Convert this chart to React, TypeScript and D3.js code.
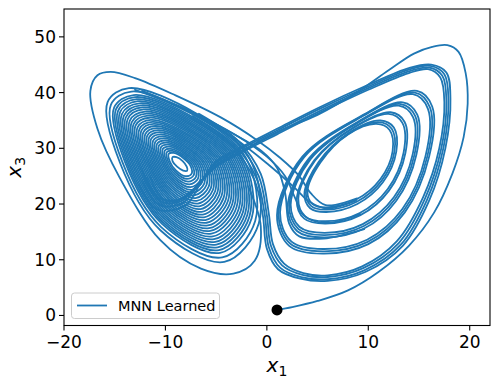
import React from "react";
import * as d3 from "d3";

// ---------- data (read / estimated from the reference picture) ----------
const xTicks = [-20, -10, 0, 10, 20];
const yTicks = [0, 10, 20, 30, 40, 50];
const seriesLabel = "MNN Learned";
const startPoint: [number, number] = [1, 1];

// first excursion: from the start point around the right wing into the left wing
const startPath: [number, number][] = [
  [1, 1], [2.5, 1.5], [5, 2.6], [8, 4.5], [11, 7.8], [14, 12.5], [16.5, 18.5], [18.3, 25.5],
  [19.4, 32], [19.8, 38], [19.6, 43.5], [18.9, 47.3], [17.8, 48.5], [16.3, 48.2], [14.5, 47],
  [12, 44], [9, 40.2], [5, 36], [1.3, 33.2], [-1, 31], [-3, 29], [-5.5, 26.3], [-7, 23],
  [-9, 20.5], [-11, 21.5], [-12.3, 26],
];

// outermost loop of the left wing, leaving to the right wing
const outerLeftPath: [number, number][] = [
  [-1.8, 23], [-0.6, 16], [-1.2, 9.8], [-3.3, 7.5], [-6.5, 8.4], [-10.5, 13.5], [-14.5, 24.7],
  [-16.7, 33.5], [-17.4, 40.3], [-16.7, 43.1], [-15.4, 43.7], [-13, 42.6], [-9, 39.5],
  [-4.5, 35.5], [-1, 31.5], [1.3, 28.3], [3.2, 25], [4.3, 22], [5.8, 19.8], [8.9, 21],
];

// left-wing spiral around the left equilibrium (innermost to outermost)
const leftLoops: [number, number][][] = [
  [[-9.3, 28.4], [-8.9, 28.4], [-8.3, 27.7], [-7.9, 26.7], [-7.85, 26.0], [-8.25, 26.0], [-8.85, 26.7], [-9.3, 27.7]],
  [[-9.67, 29.01], [-9.17, 29.17], [-8.22, 28.23], [-7.51, 26.82], [-7.43, 25.41], [-8.01, 24.99], [-8.94, 26.0], [-9.58, 27.68]],
  [[-9.87, 29.31], [-9.32, 29.54], [-8.18, 28.49], [-7.33, 26.87], [-7.22, 25.13], [-7.89, 24.5], [-8.99, 25.66], [-9.74, 27.68]],
  [[-10.06, 29.61], [-9.46, 29.91], [-8.14, 28.75], [-7.14, 26.92], [-7.0, 24.84], [-7.76, 24.01], [-9.04, 25.31], [-9.9, 27.67]],
  [[-10.25, 29.91], [-9.6, 30.29], [-8.11, 29.01], [-6.96, 26.98], [-6.79, 24.56], [-7.64, 23.52], [-9.09, 24.97], [-10.06, 27.67]],
  [[-10.44, 30.2], [-9.74, 30.66], [-8.07, 29.26], [-6.78, 27.03], [-6.58, 24.27], [-7.52, 23.02], [-9.14, 24.63], [-10.21, 27.66]],
  [[-10.64, 30.5], [-9.88, 31.03], [-8.03, 29.52], [-6.6, 27.09], [-6.37, 23.99], [-7.4, 22.53], [-9.19, 24.29], [-10.37, 27.65]],
  [[-10.83, 30.79], [-10.02, 31.4], [-7.99, 29.78], [-6.41, 27.14], [-6.16, 23.7], [-7.28, 22.04], [-9.24, 23.95], [-10.53, 27.64]],
  [[-11.02, 31.09], [-10.16, 31.77], [-7.95, 30.04], [-6.23, 27.2], [-5.95, 23.42], [-7.16, 21.55], [-9.29, 23.61], [-10.69, 27.64]],
  [[-11.21, 31.38], [-10.3, 32.14], [-7.91, 30.29], [-6.05, 27.25], [-5.73, 23.14], [-7.03, 21.06], [-9.34, 23.27], [-10.84, 27.63]],
  [[-11.41, 31.68], [-10.45, 32.51], [-7.87, 30.55], [-5.87, 27.3], [-5.52, 22.86], [-6.91, 20.57], [-9.39, 22.93], [-11.0, 27.63]],
  [[-11.6, 31.98], [-10.59, 32.88], [-7.83, 30.81], [-5.68, 27.35], [-5.31, 22.57], [-6.79, 20.08], [-9.44, 22.58], [-11.15, 27.62]],
  [[-11.79, 32.28], [-10.73, 33.26], [-7.79, 31.07], [-5.5, 27.41], [-5.1, 22.29], [-6.67, 19.59], [-9.49, 22.24], [-11.31, 27.62]],
  [[-11.98, 32.57], [-10.87, 33.63], [-7.75, 31.32], [-5.32, 27.46], [-4.89, 22.0], [-6.55, 19.09], [-9.54, 21.9], [-11.47, 27.61]],
  [[-12.18, 32.87], [-11.01, 34.0], [-7.72, 31.58], [-5.14, 27.52], [-4.68, 21.72], [-6.43, 18.6], [-9.59, 21.56], [-11.63, 27.61]],
  [[-12.37, 33.16], [-11.15, 34.37], [-7.68, 31.84], [-4.96, 27.57], [-4.47, 21.43], [-6.31, 18.11], [-9.64, 21.22], [-11.78, 27.6]],
  [[-12.56, 33.46], [-11.29, 34.74], [-7.64, 32.1], [-4.78, 27.63], [-4.26, 21.15], [-6.19, 17.62], [-9.69, 20.88], [-11.94, 27.6]],
  [[-12.75, 33.76], [-11.43, 35.11], [-7.6, 32.35], [-4.59, 27.68], [-4.04, 20.86], [-6.06, 17.13], [-9.74, 20.53], [-12.09, 27.59]],
  [[-12.95, 34.06], [-11.58, 35.48], [-7.56, 32.61], [-4.41, 27.73], [-3.83, 20.58], [-5.94, 16.64], [-9.79, 20.19], [-12.25, 27.59]],
  [[-13.14, 34.35], [-11.72, 35.85], [-7.52, 32.87], [-4.23, 27.78], [-3.62, 20.29], [-5.82, 16.15], [-9.84, 19.85], [-12.41, 27.58]],
  [[-13.33, 34.65], [-11.86, 36.22], [-7.48, 33.13], [-4.05, 27.84], [-3.41, 20.01], [-5.7, 15.66], [-9.89, 19.51], [-12.57, 27.57]],
  [[-13.52, 34.94], [-12.0, 36.59], [-7.44, 33.38], [-3.86, 27.89], [-3.2, 19.72], [-5.58, 15.17], [-9.94, 19.17], [-12.72, 27.56]],
  [[-13.72, 35.24], [-12.14, 36.97], [-7.4, 33.64], [-3.68, 27.95], [-2.99, 19.44], [-5.46, 14.68], [-9.99, 18.83], [-12.88, 27.56]],
  [[-13.91, 35.53], [-12.28, 37.34], [-7.36, 33.9], [-3.5, 28.0], [-2.77, 19.15], [-5.33, 14.18], [-10.04, 18.49], [-13.04, 27.55]],
  [[-14.1, 35.83], [-12.42, 37.71], [-7.33, 34.16], [-3.32, 28.06], [-2.56, 18.87], [-5.21, 13.69], [-10.09, 18.15], [-13.2, 27.55]],
  [[-14.29, 36.13], [-12.56, 38.08], [-7.29, 34.41], [-3.14, 28.11], [-2.35, 18.59], [-5.09, 13.2], [-10.13, 17.8], [-13.35, 27.54]],
  [[-14.48, 36.43], [-12.71, 38.45], [-7.25, 34.67], [-2.96, 28.16], [-2.14, 18.31], [-4.97, 12.71], [-10.18, 17.46], [-13.51, 27.54]],
  [[-14.67, 36.72], [-12.85, 38.82], [-7.21, 34.93], [-2.77, 28.21], [-1.93, 18.02], [-4.85, 12.22], [-10.23, 17.12], [-13.66, 27.53]],
  [[-14.87, 37.02], [-12.99, 39.19], [-7.17, 35.19], [-2.59, 28.27], [-1.72, 17.74], [-4.73, 11.73], [-10.28, 16.78], [-13.82, 27.53]],
  [[-15.06, 37.31], [-13.13, 39.56], [-7.13, 35.44], [-2.41, 28.32], [-1.5, 17.45], [-4.6, 11.24], [-10.33, 16.44], [-13.98, 27.52]],
  [[-15.38, 37.81], [-13.36, 40.18], [-7.06, 35.87], [-2.1, 28.41], [-1.15, 16.97], [-4.4, 10.42], [-10.42, 15.87], [-14.24, 27.51]],
  [[-15.7, 38.3], [-13.6, 40.8], [-7.0, 36.3], [-1.8, 28.5], [-0.8, 16.5], [-4.2, 9.6], [-10.5, 15.3], [-14.5, 27.5]],
];

// right-wing rings around the right equilibrium (innermost to outermost)
const rightRings: [number, number][][] = [
  [[5.9, 19.4], [8.8, 20.8], [11.2, 24.5], [12.4, 29.5], [12.1, 33.3], [10.8, 34.4], [8.0, 32.5], [5.3, 27.5], [4.0, 22.2], [4.5, 20.0]],
  [[5.88, 18.98], [8.86, 20.4], [11.32, 24.2], [12.58, 29.45], [12.31, 33.51], [11.0, 34.7], [8.08, 32.68], [5.21, 27.55], [3.85, 21.99], [4.38, 19.62]],
  [[5.86, 18.57], [8.92, 20.0], [11.44, 23.9], [12.76, 29.4], [12.52, 33.72], [11.2, 34.99], [8.15, 32.85], [5.12, 27.6], [3.7, 21.78], [4.27, 19.25]],
  [[5.78, 16.91], [9.16, 18.4], [11.92, 22.7], [13.48, 29.2], [13.36, 34.56], [12.0, 36.17], [8.45, 33.55], [4.76, 27.8], [3.1, 20.94], [3.81, 17.75]],
  [[5.76, 16.49], [9.22, 18.0], [12.04, 22.4], [13.66, 29.15], [13.57, 34.77], [12.2, 36.47], [8.53, 33.73], [4.67, 27.85], [2.95, 20.73], [3.69, 17.37]],
  [[5.68, 14.83], [9.46, 16.4], [12.52, 21.2], [14.38, 28.95], [14.41, 35.61], [13.0, 37.65], [8.83, 34.43], [4.31, 28.05], [2.35, 19.89], [3.23, 15.87]],
  [[5.66, 14.42], [9.52, 16.0], [12.64, 20.9], [14.56, 28.9], [14.62, 35.82], [13.2, 37.94], [8.9, 34.6], [4.22, 28.1], [2.2, 19.68], [3.12, 15.5]],
  [[5.64, 14.0], [9.58, 15.6], [12.76, 20.6], [14.74, 28.85], [14.83, 36.03], [13.4, 38.24], [8.98, 34.78], [4.13, 28.15], [2.05, 19.47], [3.0, 15.12]],
  [[5.54, 11.93], [9.88, 13.6], [13.36, 19.1], [15.64, 28.6], [15.88, 37.08], [14.4, 39.71], [9.35, 35.65], [3.68, 28.4], [1.3, 18.42], [2.43, 13.25]],
  [[5.52, 11.52], [9.94, 13.2], [13.48, 18.8], [15.82, 28.55], [16.09, 37.29], [14.6, 40.01], [9.43, 35.83], [3.59, 28.45], [1.15, 18.21], [2.32, 12.88]],
  [[5.5, 11.1], [10.0, 12.8], [13.6, 18.5], [16.0, 28.5], [16.3, 37.5], [14.8, 40.3], [9.5, 36.0], [3.5, 28.5], [1.0, 18.0], [2.2, 12.5]],
];

// wide excursions: left wing -> around the right wing -> back into the left wing
const bandPaths: [number, number][][] = [
  [[-7, 36], [-3, 31], [-0.8, 25], [0, 18], [0.4, 12.5], [1.5, 9], [3.5, 7.3], [6, 6.9], [9.5, 8.5], [13, 13], [15.6, 21], [17.2, 30], [17.7, 38.5], [17.3, 43], [16, 44.5], [14, 43.8], [10, 40.8], [5, 36.5], [1, 32.8], [-2, 30], [-5, 27], [-6.8, 23.5], [-8.5, 20.5], [-10.5, 20.5], [-11.8, 24.5]],
  [[-7.3, 35.8], [-3.2, 30.6], [-1, 24.5], [-0.2, 18], [0.2, 12.2], [1.3, 8.6], [3.4, 6.9], [6, 6.5], [9.6, 8.1], [13.2, 12.7], [15.8, 20.8], [17.4, 30], [17.9, 38.7], [17.5, 43.3], [16.1, 44.8], [14, 44.1], [10, 41.1], [5, 36.9], [1, 33.2], [-2, 30.4], [-5, 27.4], [-6.6, 23.8], [-8.3, 20.2], [-10.6, 19.8], [-12.2, 24]],
  [[-6.7, 36.2], [-2.8, 31.3], [-0.6, 25.4], [0.2, 18.2], [0.6, 12.8], [1.7, 9.3], [3.6, 7.6], [6, 7.2], [9.4, 8.8], [12.8, 13.3], [15.4, 21.2], [17.0, 30], [17.5, 38.3], [17.1, 42.7], [15.9, 44.2], [14, 43.5], [10, 40.5], [5, 36.2], [1, 32.5], [-2, 29.7], [-5, 26.7], [-6.9, 23.2], [-8.7, 20.8], [-10.4, 21.1], [-11.5, 25]],
  [[-7.5, 35.5], [-3.4, 30.3], [-1.2, 24.2], [-0.4, 18], [0.0, 12], [1.1, 8.3], [3.3, 6.6], [6, 6.2], [9.7, 7.8], [13.4, 12.5], [16.0, 20.6], [17.6, 30], [18.1, 38.9], [17.7, 43.6], [16.2, 45.0], [14, 44.4], [10, 41.4], [5, 37.2], [1, 33.5], [-2, 30.7], [-5, 27.7], [-6.4, 24.2], [-8.0, 19.8], [-10.8, 19.0], [-12.6, 23.5]],
];

// crossings from the top of the left wing into the right-wing rings
const crossPaths: [number, number][][] = [
  [[-12, 40], [-7.5, 36.3], [-3.2, 31.8], [0.2, 27], [2.7, 23], [4.2, 20.4], [5.9, 19.2], [8.8, 20.6]],
  [[-12.3, 40.3], [-7.5, 36.6], [-3, 32.3], [0, 28.5], [1.8, 25], [2.8, 21], [3.6, 18], [5.7, 16.6], [9.2, 18.2]],
  [[-13, 40.5], [-8, 37], [-3.5, 32.8], [-0.5, 29.5], [1, 26.5], [1.8, 22], [2.2, 16.5], [3.2, 14.2], [5.6, 13.8], [9.6, 15.5]],
];

// ---------- layout ----------
const W = 499;
const H = 385;
const plot = { left: 64, right: 490, top: 9, bottom: 325.5 };
const lineColor = "#1f77b4";
const font = "DejaVu Sans, sans-serif";

export default function App() {
  const x = d3.scaleLinear().domain([-20, 22]).range([plot.left, plot.right]);
  const y = d3.scaleLinear().domain([-1.8, 55]).range([plot.bottom, plot.top]);

  const openLine = d3
    .line<[number, number]>()
    .x((d) => x(d[0]))
    .y((d) => y(d[1]))
    .curve(d3.curveCatmullRom.alpha(0.5));
  const closedLine = d3
    .line<[number, number]>()
    .x((d) => x(d[0]))
    .y((d) => y(d[1]))
    .curve(d3.curveCatmullRomClosed.alpha(0.5));

  const strokeProps = {
    fill: "none",
    stroke: lineColor,
    strokeWidth: 1.8,
    strokeLinejoin: "round" as const,
    strokeLinecap: "round" as const,
  };

  return (
    <svg
      width={W}
      height={H}
      viewBox={`0 0 ${W} ${H}`}
      style={{ position: "absolute", left: 0, top: 0, background: "#fff" }}
      fontFamily={font}
    >
      <rect x={0} y={0} width={W} height={H} fill="#fff" />
      <defs>
        <clipPath id="plotClip">
          <rect x={plot.left} y={plot.top} width={plot.right - plot.left} height={plot.bottom - plot.top} />
        </clipPath>
      </defs>

      <g clipPath="url(#plotClip)">
        {leftLoops.map((lp, i) => (
          <path key={"l" + i} d={closedLine(lp) || ""} {...strokeProps} />
        ))}
        {rightRings.map((lp, i) => (
          <path key={"r" + i} d={closedLine(lp) || ""} {...strokeProps} />
        ))}
        {bandPaths.map((lp, i) => (
          <path key={"b" + i} d={openLine(lp) || ""} {...strokeProps} />
        ))}
        {crossPaths.map((lp, i) => (
          <path key={"c" + i} d={openLine(lp) || ""} {...strokeProps} />
        ))}
        <path d={openLine(outerLeftPath) || ""} {...strokeProps} />
        <path d={openLine(startPath) || ""} {...strokeProps} />
        <circle cx={x(startPoint[0])} cy={y(startPoint[1])} r={5.5} fill="#000" />
      </g>

      {/* frame */}
      <rect
        x={plot.left}
        y={plot.top}
        width={plot.right - plot.left}
        height={plot.bottom - plot.top}
        fill="none"
        stroke="#000"
        strokeWidth={1.1}
      />

      {/* x ticks */}
      {xTicks.map((t) => (
        <g key={"xt" + t}>
          <line x1={x(t)} x2={x(t)} y1={plot.bottom} y2={plot.bottom + 5} stroke="#000" strokeWidth={1.1} />
          <text x={x(t)} y={plot.bottom + 22} fontSize={17} textAnchor="middle" fill="#000">
            {t < 0 ? "\u2212" + Math.abs(t) : String(t)}
          </text>
        </g>
      ))}

      {/* y ticks */}
      {yTicks.map((t) => (
        <g key={"yt" + t}>
          <line x1={plot.left - 5} x2={plot.left} y1={y(t)} y2={y(t)} stroke="#000" strokeWidth={1.1} />
          <text x={plot.left - 8} y={y(t) + 6} fontSize={17} textAnchor="end" fill="#000">
            {String(t)}
          </text>
        </g>
      ))}

      {/* axis labels */}
      <text x={(plot.left + plot.right) / 2} y={372} fontSize={20} textAnchor="middle" fill="#000">
        <tspan fontStyle="italic">x</tspan>
        <tspan fontSize={14} dy={4}>1</tspan>
      </text>
      <text transform={`translate(21, ${(plot.top + plot.bottom) / 2}) rotate(-90)`} fontSize={20} textAnchor="middle" fill="#000">
        <tspan fontStyle="italic">x</tspan>
        <tspan fontSize={14} dy={4}>3</tspan>
      </text>

      {/* legend */}
      <rect x={71.5} y={293} width={148} height={25.5} rx={3} fill="#fff" fillOpacity={0.8} stroke="#cccccc" strokeWidth={1} />
      <line x1={77} x2={107} y1={305.5} y2={305.5} stroke={lineColor} strokeWidth={1.8} />
      <text x={118} y={310.5} fontSize={14.5} fill="#000">
        {seriesLabel}
      </text>
    </svg>
  );
}
